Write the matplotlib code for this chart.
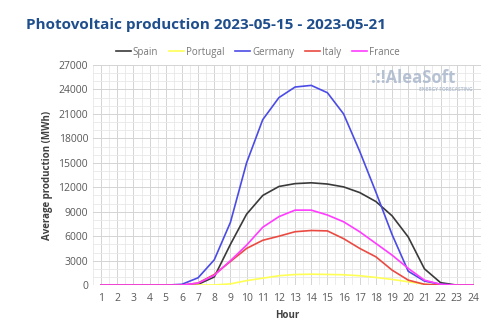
import numpy as np
import matplotlib
matplotlib.use('Agg')
import matplotlib.pyplot as plt
from matplotlib.ticker import MultipleLocator

# Average hourly photovoltaic production (MWh), week 2023-05-15 .. 2023-05-21
hours = list(range(1, 25))
spain = [0, 0, 0, 0, 0, 0, 100, 1000, 5000, 8700, 11000, 12100,
         12450, 12550, 12400, 12050, 11350, 10250, 8500, 5900, 2000, 300, 0, 0]
portugal = [0, 0, 0, 0, 0, 0, 0, 20, 150, 550, 850, 1150,
            1300, 1340, 1310, 1270, 1150, 940, 700, 410, 120, 0, 0, 0]
germany = [0, 0, 0, 0, 0, 100, 900, 3100, 7700, 15000, 20300, 23000,
           24300, 24500, 23600, 21000, 16400, 11400, 6200, 1700, 500, 100, 0, 0]
italy = [0, 0, 0, 0, 0, 0, 250, 1300, 2900, 4500, 5500, 6000,
         6550, 6700, 6650, 5700, 4500, 3470, 1840, 610, 100, 0, 0, 0]
france = [0, 0, 0, 0, 0, 0, 250, 1200, 3000, 4900, 7100, 8400,
          9200, 9200, 8600, 7770, 6540, 5110, 3680, 2050, 610, 100, 0, 0]

series = [
    ('Spain', spain, '#3a3a3a'),
    ('Portugal', portugal, '#ffff55'),
    ('Germany', germany, '#4b4be6'),
    ('Italy', italy, '#ea4a42'),
    ('France', france, '#ff3cff'),
]

plt.rcParams['font.family'] = ['Open Sans', 'DejaVu Sans']

fig = plt.figure(figsize=(5.0, 3.3), dpi=100)
ax = fig.add_axes([0.186, 0.136, 0.776, 0.667])

for name, vals, col in series:
    ax.plot(hours, vals, color=col, lw=1.2, label=name, solid_joinstyle='round')

ax.set_xlim(0.5, 24.5)
ax.set_ylim(0, 27000)
ax.xaxis.set_major_locator(MultipleLocator(1))
ax.xaxis.set_minor_locator(MultipleLocator(0.5))
ax.yaxis.set_major_locator(MultipleLocator(3000))
ax.yaxis.set_minor_locator(MultipleLocator(1000))
ax.grid(which='major', color='#d4d4d4', lw=0.7)
ax.grid(which='minor', color='#e8e8e8', lw=0.6)
ax.set_axisbelow(True)
for s in ax.spines.values():
    s.set_visible(False)
ax.tick_params(which='both', length=0, labelsize=7.5, labelcolor='#595959')
ax.tick_params(axis='x', pad=6)

ax.set_xlabel('Hour', fontsize=7, fontweight='bold', color='#404040', labelpad=4)
ax.set_ylabel('Average production (MWh)', fontsize=7, fontweight='bold',
              color='#404040', labelpad=4)

# watermark logo
ax.text(0.933, 0.94, '.:!AleaSoft', transform=ax.transAxes, ha='right', va='center',
        fontsize=12, fontweight='bold', color='#aab8cc', alpha=0.85)
ax.text(0.979, 0.89, 'ENERGY FORECASTING', transform=ax.transAxes, ha='right',
        va='center', fontsize=3.5, fontweight='bold', color='#aab8cc', alpha=0.85)

fig.legend(loc='center', bbox_to_anchor=(0.515, 0.842), ncol=5, frameon=False,
           fontsize=7, handlelength=1.6, handletextpad=0.15, columnspacing=1.1,
           labelcolor='#777777')

fig.text(0.052, 0.924, 'Photovoltaic production 2023-05-15 - 2023-05-21',
         fontsize=11, fontweight='bold', color='#1f4e8c', va='center')

fig.savefig('out.png', dpi=100)
